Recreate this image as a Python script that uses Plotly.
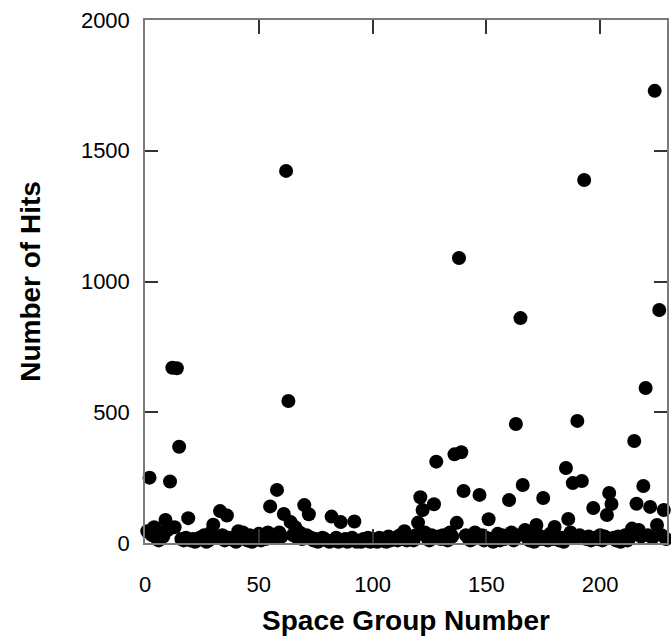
import plotly.graph_objects as go

space_group = list(range(1, 231))

hits = [
    45, 250, 30, 60, 20, 10, 40, 25, 88, 50,
    235, 670, 60, 668, 368, 15, 10, 20, 95, 10,
    15, 5, 10, 20, 15, 30, 5, 10, 40, 70,
    20, 20, 122, 30, 10, 105, 20, 15, 10, 5,
    45, 20, 40, 15, 10, 30, 5, 10, 20, 35,
    10, 25, 15, 40, 140, 30, 20, 203, 40, 25,
    111, 1423, 543, 80, 30, 60, 20, 40, 15, 145,
    30, 110, 20, 10, 15, 5, 10, 20, 15, 10,
    5, 101, 10, 20, 5, 80, 10, 15, 5, 10,
    20, 82, 5, 10, 5, 15, 10, 20, 5, 15,
    10, 5, 20, 10, 15, 5, 25, 10, 15, 20,
    10, 30, 15, 45, 10, 20, 15, 10, 30, 78,
    175, 126, 40, 20, 10, 30, 148, 311, 25, 15,
    30, 20, 10, 40, 25, 339, 77, 1090, 347, 199,
    30, 20, 10, 15, 40, 25, 184, 30, 10, 20,
    91, 15, 5, 20, 35, 10, 30, 15, 20, 164,
    40, 10, 455, 30, 860, 222, 50, 20, 10, 25,
    5, 69, 30, 15, 172, 20, 10, 35, 15, 61,
    25, 10, 20, 5, 287, 92, 40, 229, 20, 467,
    30, 237, 1388, 15, 25, 10, 134, 20, 15, 30,
    10, 25, 107, 191, 149, 20, 10, 25, 5, 15,
    30, 10, 20, 55, 390, 150, 50, 25, 218, 593,
    30, 138, 20, 1729, 69, 891, 30, 126, 15, 40,
]

x_ticks = [0, 50, 100, 150, 200]
y_ticks = [0, 500, 1000, 1500, 2000]

font_family = "Liberation Sans, Arial, sans-serif"

fig = go.Figure(
    go.Scatter(
        x=space_group,
        y=hits,
        mode="markers",
        marker=dict(color="black", size=14, line=dict(width=0)),
        cliponaxis=False,
        showlegend=False,
    )
)

fig.update_layout(
    width=671,
    height=636,
    margin=dict(l=145, r=2, t=20, b=93),
    paper_bgcolor="white",
    plot_bgcolor="white",
    font=dict(family=font_family, color="black", size=22),
)

fig.update_xaxes(
    range=[0, 229.4],
    tickvals=x_ticks,
    ticktext=[str(v) for v in x_ticks],
    showgrid=False,
    zeroline=False,
    showline=True,
    linecolor="#7a7a7a",
    linewidth=1.5,
    mirror="ticks",
    ticks="inside",
    ticklen=14,
    tickwidth=2,
    tickcolor="#333333",
    tickfont=dict(size=22, family=font_family),
    ticklabelstandoff=21,
    title=dict(
        text="<b>Space Group Number</b>",
        font=dict(size=28, family=font_family),
        standoff=14,
    ),
)

fig.update_yaxes(
    range=[0, 2000],
    tickvals=y_ticks,
    ticktext=[str(v) for v in y_ticks],
    showgrid=False,
    zeroline=False,
    showline=True,
    linecolor="#7a7a7a",
    linewidth=1.5,
    mirror="ticks",
    ticks="inside",
    ticklen=13,
    tickwidth=2,
    tickcolor="#333333",
    tickfont=dict(size=22, family=font_family),
    ticklabelstandoff=9,
    title=dict(
        text="<b>Number of Hits</b>",
        font=dict(size=28, family=font_family),
        standoff=32,
    ),
)

fig.write_html("out.html")
